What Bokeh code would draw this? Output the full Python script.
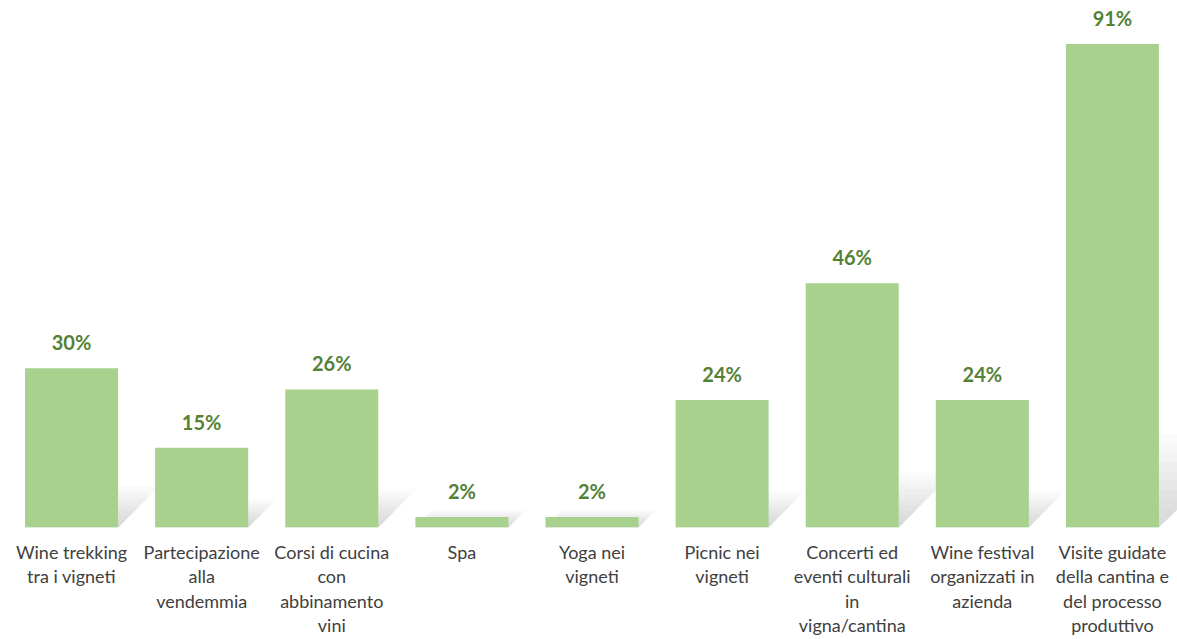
from bokeh.plotting import figure
from bokeh.models import Range1d, FixedTicker, ColumnDataSource, LabelSet
from bokeh.core.properties import value
from bokeh.embed import file_html
from bokeh.resources import INLINE

categories = [
    "Wine trekking\ntra i vigneti",
    "Partecipazione\nalla\nvendemmia",
    "Corsi di cucina\ncon\nabbinamento\nvini",
    "Spa",
    "Yoga nei\nvigneti",
    "Picnic nei\nvigneti",
    "Concerti ed\neventi culturali\nin\nvigna/cantina",
    "Wine festival\norganizzati in\nazienda",
    "Visite guidate\ndella cantina e\ndel processo\nproduttivo",
]
values = [30, 15, 26, 2, 2, 24, 46, 24, 91]
labels = [f"{v}%" for v in values]

xs = list(range(len(categories)))
bar_w = 0.715

p = figure(width=1177, height=639, output_backend="svg", toolbar_location=None,
           x_range=Range1d(-0.5, len(categories) - 0.5), y_range=Range1d(0, 99.2),
           min_border_left=6, min_border_right=0, min_border_top=0, min_border_bottom=112)
p.outline_line_color = None
p.grid.visible = False
p.yaxis.visible = False

# shadows (gradient layers)
px_x = 1171 / 9.0
px_y = 527 / 99.2
n = 10
for i in range(n):
    f = (i + 1) / n
    xsl, ysl = [], []
    for x, v in zip(xs, values):
        hs = 0.16 * v + 3
        top = f * hs
        shift = (top * px_y * 1.0) / px_x
        x0, x1 = x - bar_w / 2, x + bar_w / 2
        xsl.append([x0, x1, x1 + shift, x0 + shift])
        ysl.append([0, 0, top, top])
    p.patches(xsl, ysl, fill_color="#808080", fill_alpha=0.03, line_color=None)

src = ColumnDataSource(dict(x=xs, top=values, lab=labels))
p.vbar(x="x", top="top", width=bar_w, bottom=0, source=src,
       fill_color="#A9D18E", line_color=None)

p.add_layout(LabelSet(x="x", y="top", text="lab", source=src, y_offset=14,
                      text_align="center", text_baseline="bottom",
                      text_font=value("Lato"), text_font_style="bold",
                      text_font_size="20px", text_color="#548235"))

ax = p.xaxis[0]
ax.ticker = FixedTicker(ticks=xs)
ax.major_label_overrides = {x: c for x, c in zip(xs, categories)}
ax.axis_line_color = None
ax.major_tick_line_color = None
ax.minor_tick_line_color = None
ax.major_label_text_font = "Lato"
ax.major_label_text_font_size = "18px"
ax.major_label_text_color = "#404040"
ax.major_label_text_line_height = 1.12
ax.major_label_standoff = 7

open("out.html", "w").write(file_html(p, INLINE))
